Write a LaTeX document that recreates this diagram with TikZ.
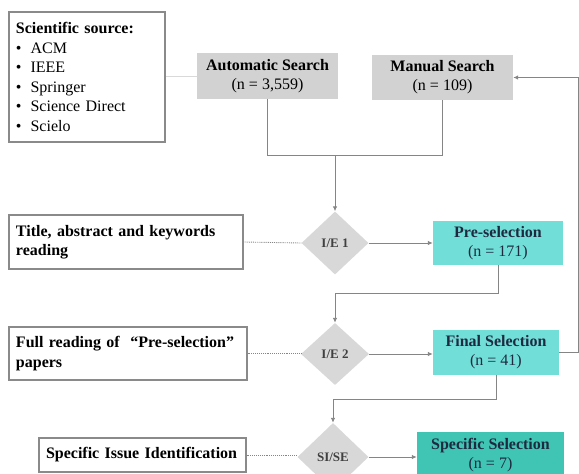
\documentclass[tikz,border=0pt]{standalone}
\usepackage{fontspec}
\setmainfont{Liberation Serif}
\usetikzlibrary{shapes.geometric,arrows.meta}
\definecolor{boxgray}{HTML}{D2D2D2}
\definecolor{diagray}{HTML}{D8D8D8}
\definecolor{edgegray}{HTML}{8A8A8A}
\definecolor{linegray}{HTML}{858585}
\definecolor{turq}{HTML}{72DED8}
\definecolor{teal2}{HTML}{40C4B4}
\definecolor{navy}{HTML}{1E2A40}
\tikzset{
  srcbox/.style={draw=edgegray, line width=1.1pt, fill=white, rectangle, inner xsep=7pt, inner ysep=4pt, align=left, font=\fontsize{16}{19.5}\selectfont},
  graybox/.style={fill=boxgray, rectangle, inner sep=0pt, align=center, font=\fontsize{16}{19}\selectfont},
  tealbox/.style={fill=turq, rectangle, inner sep=0pt, align=center, text=navy, font=\fontsize{16}{19}\selectfont},
  decide/.style={diamond, fill=diagray, inner sep=0pt, text=black!75, font=\fontsize{13}{14}\selectfont\bfseries},
  conn/.style={draw=linegray, line width=0.9pt},
  arr/.style={conn, -{Latex[length=5pt,width=4.5pt]}},
  dots/.style={draw=linegray, line width=0.9pt, densely dotted},
}
\begin{document}
\begin{tikzpicture}[x=1pt,y=-1pt]
\useasboundingbox (0,0) rectangle (579,474);
% source box
\node[srcbox, minimum width=156pt, minimum height=130pt, text width=142pt] (src) at (87,77)
  {\textbf{Scientific source:}\\
   \textbullet\hspace{9pt}ACM\\
   \textbullet\hspace{9pt}IEEE\\
   \textbullet\hspace{9pt}Springer\\
   \textbullet\hspace{9pt}Science Direct\\
   \textbullet\hspace{9pt}Scielo};
\node[graybox, minimum width=141pt, minimum height=46pt] (auto) at (267.5,76)
  {\textbf{Automatic Search}\\(n = 3,559)};
\node[graybox, minimum width=141pt, minimum height=45pt] (manual) at (442.5,77.5)
  {\textbf{Manual Search}\\(n = 109)};
% left boxes
\node[srcbox, minimum width=234pt, minimum height=54pt, text width=220pt] (title) at (126,242)
  {\textbf{Title, abstract and keywords}\\\textbf{reading}};
\node[srcbox, minimum width=238pt, minimum height=53pt, text width=224pt] (full) at (128,353.5)
  {\textbf{Full reading of \ “Pre-selection”}\\\textbf{papers}};
\node[srcbox, minimum width=207pt, minimum height=34pt, text width=193pt] (issue) at (142.5,455)
  {\textbf{Specific Issue Identification}};
% diamonds
\node[decide, minimum width=67pt, minimum height=63pt] (d1) at (335,243) {I/E 1};
\node[decide, minimum width=68pt, minimum height=62pt] (d2) at (335,354) {I/E 2};
\node[decide, minimum width=71pt, minimum height=68pt] (d3) at (333,457) {SI/SE};
% teal boxes
\node[tealbox, minimum width=130pt, minimum height=44pt] (pre) at (498,243)
  {\textbf{Pre-selection}\\(n = 171)};
\node[tealbox, minimum width=126pt, minimum height=45pt] (final) at (496,352.5)
  {\textbf{Final Selection}\\(n = 41)};
\node[tealbox, fill=teal2, minimum width=147pt, minimum height=46pt] (spec) at (490.5,455)
  {\textbf{Specific Selection}\\(n = 7)};
% junctions
\coordinate (j1) at (335,155);
\coordinate (j2) at (335,293);
\coordinate (j3) at (333,399);
\coordinate (r) at (578,353);
% connectors
\draw[draw=black!15, line width=0.9pt] (auto.west) -- (auto.west -| src.east);
\draw[conn] (auto.south) |- (j1);
\draw[conn] (manual.south) |- (j1);
\draw[arr] (j1) -- (d1.north);
\draw[dots] (title.east) -- (d1.west);
\draw[arr] (d1.east) -- (d1.east -| pre.west);
\draw[conn] (pre.south) |- (j2);
\draw[arr] (j2) -- (d2.north);
\draw[dots] (full.east) -- (full.east -| d2.west);
\draw[arr] (d2.east) -- (d2.east -| final.west);
\draw[conn] (final.south) |- (j3);
\draw[arr] (j3) -- (d3.north);
\draw[dots] (issue.east) -- (issue.east -| d3.west);
\draw[arr] (d3.east) -- (d3.east -| spec.west);
\draw[arr] (final.east) -- (final.east -| r) |- (manual.east);
\end{tikzpicture}
\end{document}
